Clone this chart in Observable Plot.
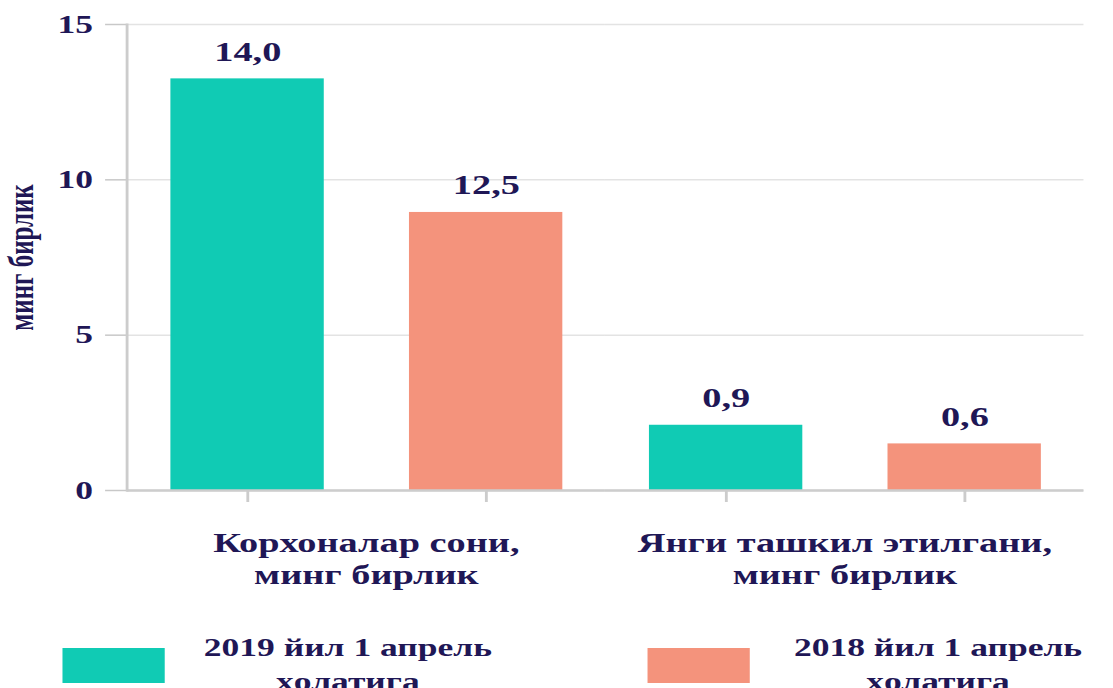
<!DOCTYPE html>
<html>
<head>
<meta charset="utf-8">
<script src="https://cdn.jsdelivr.net/npm/d3@7"></script>
<script src="https://cdn.jsdelivr.net/npm/@observablehq/plot@0.6"></script>
<style>
  html, body { margin: 0; padding: 0; background: #fff; overflow: hidden; width: 1113px; height: 688px; }
  #wrap { position: relative; width: 784px; transform: scaleX(1.42); transform-origin: 0 0; }
  #legend { position: relative; height: 68px; font-family: 'Liberation Serif', 'Times New Roman', serif; font-weight: bold; color: #1f1756; }
  .sw { position: absolute; top: 28px; width: 72px; height: 35px; }
  .lt { position: absolute; top: 11px; width: 300px; text-align: center; font-size: 25px; line-height: 34px; white-space: pre-line; }
</style>
</head>
<body>
<div id="wrap">
  <div id="chart"></div>
  <div id="legend"></div>
</div>
<script>
// ---- data ----
const groups = ["Корхоналар сони,\nминг бирлик", "Янги ташкил этилгани,\nминг бирлик"];
const seriesKeys = ["2019", "2018"];
const seriesNames = ["2019 йил 1 апрель\nҳолатига", "2018 йил 1 апрель\nҳолатига"];
const colors = ["#10cbb4", "#f4937c"];
const values2019 = [13.25, 2.1];   // bar heights as drawn
const values2018 = [8.95, 1.5];
const labels2019 = ["14,0", "0,9"]; // value labels as printed
const labels2018 = ["12,5", "0,6"];
const yTicks = [0, 5, 10, 15];
const yLabel = "минг бирлик";

const table = [];
groups.forEach((g, i) => {
  table.push({group: g, series: seriesKeys[0], value: values2019[i], label: labels2019[i]});
  table.push({group: g, series: seriesKeys[1], value: values2018[i], label: labels2018[i]});
});

const ink = "#1f1756";
const chart = Plot.plot({
  width: 784,
  height: 620,
  marginLeft: 88,
  marginRight: 21,
  marginTop: 24,
  marginBottom: 130,
  style: {fontFamily: "'Liberation Serif', 'Times New Roman', serif", fontWeight: "bold", color: ink, background: "transparent", overflow: "visible"},
  fx: {domain: groups, padding: 0},
  x: {domain: seriesKeys, paddingInner: 0.358, paddingOuter: 0.179},
  y: {domain: [0, 15]},
  color: {domain: seriesKeys, range: colors},
  marks: [
    Plot.gridY(yTicks, {stroke: "#e3e3e3", strokeOpacity: 1, strokeWidth: 1.5}),
    Plot.barY(table, {fx: "group", x: "series", y: "value", fill: "series"}),
    Plot.ruleY([0], {stroke: "#cdcdcd", strokeWidth: 2.5}),
    Plot.text(table, {fx: "group", x: "series", y: "value", text: "label", dy: -27, fontSize: 27, fill: ink}),
    Plot.axisY(yTicks, {tickSize: 15, tickPadding: 9, fontSize: 25, stroke: "#c8c8c8", strokeWidth: 1.5, fill: ink,
      label: yLabel, labelAnchor: "center", labelOffset: 84, labelArrow: "none"}),
    Plot.axisX({tickSize: 12, tickFormat: () => "", stroke: "#cccccc", strokeWidth: 2, label: null}),
    Plot.axisFx({anchor: "bottom", tickSize: 0, tickPadding: 39, fontSize: 27, lineHeight: 1.18, fill: ink, label: null}),
    Plot.frame({anchor: "left", facetAnchor: "left", stroke: "#cccccc", strokeWidth: 2})
  ]
});
document.getElementById("chart").append(chart);

// ---- legend ----
const legend = document.getElementById("legend");
const swLeft = [44.4, 455.6];
const txLeft = [95, 510.6];
seriesKeys.forEach((k, i) => {
  const sw = document.createElement("div");
  sw.className = "sw";
  sw.style.left = swLeft[i] + "px";
  sw.style.background = colors[i];
  legend.append(sw);
  const t = document.createElement("div");
  t.className = "lt";
  t.style.left = txLeft[i] + "px";
  t.textContent = seriesNames[i];
  legend.append(t);
});
</script>
</body>
</html>
